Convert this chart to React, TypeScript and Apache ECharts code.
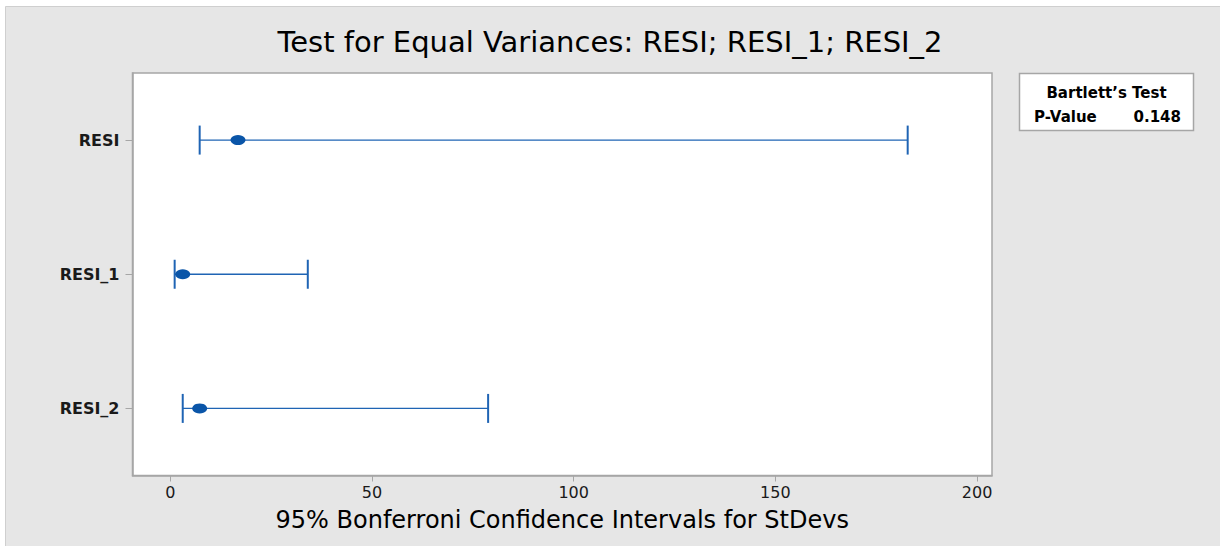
import React, { useEffect, useRef } from "react";
import * as echarts from "echarts";

const categories = ["RESI", "RESI_1", "RESI_2"];
const lowerBounds = [7.3, 1.1, 3.1];
const estimates = [16.8, 3.1, 7.3];
const upperBounds = [182.8, 34.1, 78.8];
const xTicks = [0, 50, 100, 150, 200];
const titleText = "Test for Equal Variances: RESI; RESI_1; RESI_2";
const xAxisTitle = "95% Bonferroni Confidence Intervals for StDevs";
const testName = "Bartlett\u2019s Test";
const pLabel = "P-Value";
const pValue = "0.148";

export default function App() {
  const ref = useRef<HTMLDivElement>(null);
  useEffect(() => {
    const chart = echarts.init(ref.current!, null, { renderer: "svg" });
    const font = "DejaVu Sans";
    const blue = "#1f64b4";
    const axisGray = "#a6a6a6";
    chart.setOption({
      animation: false,
      backgroundColor: "#ffffff",
      textStyle: { fontFamily: font },
      title: {
        text: titleText,
        left: "center",
        top: 26,
        padding: 0,
        textStyle: { fontFamily: font, fontSize: 29, fontWeight: "normal", color: "#000", lineHeight: 32 },
      },
      grid: {
        left: 132.5,
        top: 73,
        right: 228,
        bottom: 70.5,
        show: true,
        backgroundColor: "#ffffff",
        borderColor: axisGray,
        borderWidth: 1.5,
      },
      xAxis: {
        type: "value",
        min: -9.35,
        max: 203.7,
        splitLine: { show: false },
        axisLine: { show: true, onZero: false, lineStyle: { color: axisGray, width: 1.5 } },
        axisTick: { show: true, customValues: xTicks, length: 6, lineStyle: { color: axisGray } },
        axisLabel: { customValues: xTicks, fontSize: 16, color: "#1a1a1a", margin: 9, fontFamily: font },
        name: xAxisTitle,
        nameLocation: "middle",
        nameGap: 32,
        nameTextStyle: { fontSize: 24, color: "#000", fontFamily: font },
      },
      yAxis: {
        type: "category",
        data: categories,
        inverse: true,
        axisLine: { show: true, onZero: false, lineStyle: { color: axisGray, width: 1.5 } },
        axisTick: { show: true, alignWithLabel: true, length: 7, lineStyle: { color: axisGray } },
        axisLabel: { fontSize: 16, fontWeight: "bold", color: "#1a1a1a", margin: 13, fontFamily: font },
        splitLine: { show: false },
      },
      series: [
        {
          type: "custom",
          data: categories.map((c, i) => [lowerBounds[i], upperBounds[i], i]),
          encode: { x: [0, 1], y: 2 },
          z: 2,
          renderItem: (params: any, api: any) => {
            const lo = api.coord([api.value(0), api.value(2)]);
            const hi = api.coord([api.value(1), api.value(2)]);
            const h = 14.5;
            return {
              type: "group",
              children: [
                { type: "line", shape: { x1: lo[0], y1: lo[1], x2: hi[0], y2: hi[1] }, style: { stroke: blue, lineWidth: 1.3 } },
                { type: "line", shape: { x1: lo[0], y1: lo[1] - h, x2: lo[0], y2: lo[1] + h }, style: { stroke: blue, lineWidth: 2 } },
                { type: "line", shape: { x1: hi[0], y1: hi[1] - h, x2: hi[0], y2: hi[1] + h }, style: { stroke: blue, lineWidth: 2 } },
              ],
            };
          },
        },
        {
          type: "scatter",
          data: categories.map((c, i) => [estimates[i], i]),
          symbol: "circle",
          symbolSize: [15, 10],
          itemStyle: { color: "#0a55a8", opacity: 1 },
          z: 3,
        },
      ],
      graphic: [
        {
          type: "rect",
          z: -10,
          shape: { x: 5.5, y: 6.5, width: 1220, height: 545 },
          style: { fill: "#e6e6e6", stroke: "#cfcfcf", lineWidth: 1 },
        },
        {
          type: "rect",
          z: 5,
          shape: { x: 1019.5, y: 73.5, width: 174, height: 57 },
          style: { fill: "#ffffff", stroke: axisGray, lineWidth: 1.5 },
        },
        {
          type: "text",
          z: 6,
          x: 1106.5,
          y: 93,
          style: { text: testName, align: "center", verticalAlign: "middle", font: "bold 15px 'DejaVu Sans'", fill: "#000" },
        },
        {
          type: "text",
          z: 6,
          x: 1034,
          y: 117,
          style: { text: pLabel, align: "left", verticalAlign: "middle", font: "bold 15px 'DejaVu Sans'", fill: "#000" },
        },
        {
          type: "text",
          z: 6,
          x: 1181,
          y: 117,
          style: { text: pValue, align: "right", verticalAlign: "middle", font: "bold 15px 'DejaVu Sans'", fill: "#000" },
        },
      ],
    });
    return () => chart.dispose();
  }, []);
  return <div ref={ref} style={{ position: "absolute", left: 0, top: 0, width: 1220, height: 546 }} />;
}
